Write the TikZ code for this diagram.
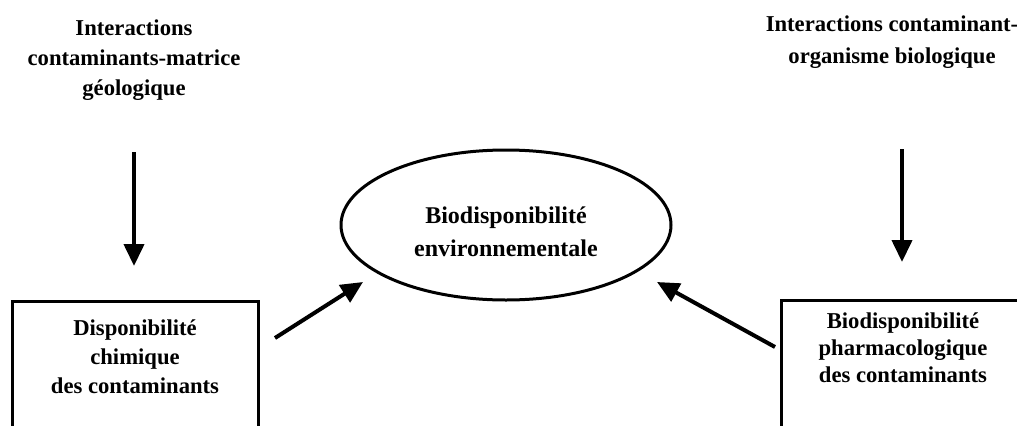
\documentclass[tikz,border=0pt]{standalone}
\usepackage{fontspec}
\setmainfont{Liberation Serif}
\usetikzlibrary{shapes.geometric,arrows.meta}
\tikzset{
  lbl/.style={align=center,inner sep=0pt,font=\bfseries\fontsize{17pt}{#1}\selectfont},
  lbl/.default={22.5pt},
  frame/.style={line width=2.25pt},
  arr/.style={line width=3pt,-{Triangle[length=16.5pt,width=15pt]}},
}
\begin{document}
\begin{tikzpicture}[x=0.75pt,y=-0.75pt]
\useasboundingbox (0,0) rectangle (1017,425);
\clip (0,0) rectangle (1017,425);
% top labels
\node[lbl={22.5pt}] (topL) at (134,60) {Interactions\\contaminants-matrice\\géologique};
\node[lbl={24pt}] (topR) at (892,42) {Interactions contaminant-\\organisme biologique};
% ellipse
\node[draw,ellipse,line width=2.25pt,minimum width=247.5pt,minimum height=112.5pt,inner sep=0pt] (ell) at (506,225) {};
\node[lbl={25pt},font=\bfseries\fontsize{18pt}{25pt}\selectfont] (ellT) at (506,232) {Biodisponibilité\\environnementale};
% boxes (open at the bottom edge)
\draw[frame] (12,430) -- (12,301) -- (258,301) -- (258,430);
\draw[frame] (781,430) -- (781,300) -- (1025,300);
\node[lbl={21.75pt}] (boxL) at (135,357) {Disponibilité\\chimique\\des contaminants};
\node[lbl={20.25pt}] (boxR) at (903,348) {Biodisponibilité\\pharmacologique\\des contaminants};
% arrow ends
\coordinate (aL1) at (134,152); \coordinate (aL2) at (134,266);
\coordinate (aR1) at (902,149); \coordinate (aR2) at (902,262);
\coordinate (dL1) at (275,338); \coordinate (dL2) at (363,282);
\coordinate (dR1) at (775,347); \coordinate (dR2) at (657,282);
\draw[arr] (aL1) -- (aL2);
\draw[arr] (aR1) -- (aR2);
\draw[arr] (dL1) -- (dL2);
\draw[arr] (dR1) -- (dR2);
\end{tikzpicture}
\end{document}
